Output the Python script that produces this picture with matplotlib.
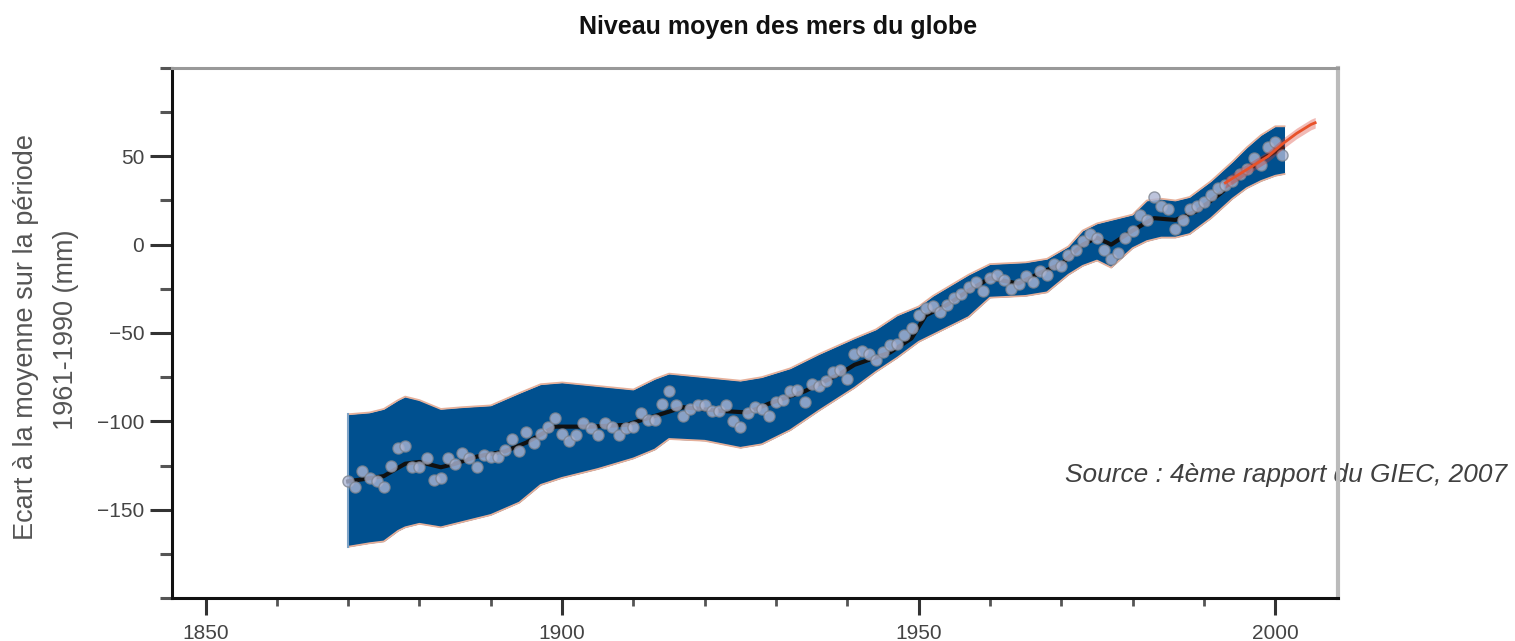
import numpy as np
import matplotlib
matplotlib.use("Agg")
import matplotlib.pyplot as plt
from matplotlib.ticker import MultipleLocator

plt.rcParams['font.family'] = ['Liberation Sans', 'DejaVu Sans']

# annual tide-gauge reconstruction (mm, relative to 1961-1990)
years = np.arange(1870, 2002)
sea_level = [
    -134, -137, -128, -132, -134, -137, -125, -115, -114, -126,
    -126, -121, -133, -132, -121, -124, -118, -121, -126, -119,
    -120, -120, -116, -110, -117, -106, -112, -107, -103, -98,
    -107, -111, -108, -101, -104, -108, -101, -103, -108, -104,
    -103, -95, -99, -99, -90, -83, -91, -97, -93, -91,
    -91, -94, -94, -91, -100, -103, -95, -92, -93, -97,
    -89, -88, -83, -82, -89, -79, -80, -77, -72, -71,
    -76, -62, -60, -62, -65, -61, -57, -56, -51, -47,
    -40, -36, -35, -38, -34, -30, -28, -24, -21, -26,
    -19, -17, -20, -25, -22, -18, -21, -15, -17, -11,
    -12, -6, -3, 2, 6, 4, -3, -8, -5, 4,
    8, 17, 14, 27, 22, 20, 9, 14, 20, 22,
    24, 28, 32, 34, 36, 40, 43, 49, 45, 55,
    58, 51,
]

# smoothed curve
smooth_years = [1870, 1875, 1878, 1880, 1883, 1885, 1888, 1892, 1895, 1899,
                1904, 1909, 1913, 1917, 1922, 1926, 1929, 1934, 1939, 1941,
                1946, 1949, 1951, 1954, 1957, 1960, 1964, 1967, 1970, 1973,
                1975, 1977, 1980, 1983, 1986, 1989, 1992, 1995, 1998, 2001]
smooth_vals = [-134, -131, -124, -123, -126, -124, -120, -117, -112, -103,
               -103, -102, -97, -92, -94, -95, -90, -83, -73, -68,
               -61, -53, -40, -34, -26, -19, -22, -16, -11, 0,
               4, 0, 8, 15, 14, 19, 28, 38, 48, 55]

# 90% confidence band
band_years = [1870, 1873, 1875, 1877, 1878, 1880, 1883, 1886, 1890, 1894,
              1897, 1900, 1905, 1910, 1913, 1915, 1920, 1925, 1928, 1932,
              1936, 1941, 1944, 1947, 1950, 1952, 1957, 1960, 1965, 1968,
              1971, 1973, 1975, 1977, 1980, 1982, 1984, 1986, 1988, 1991,
              1994, 1996, 1998, 2000, 2001.3]
band_upper = [-96, -95, -93, -88, -86, -88, -93, -92, -91, -84,
              -79, -78, -80, -82, -76, -73, -75, -77, -75, -70,
              -62, -53, -48, -40, -35, -29, -17, -11, -10, -8,
              -1, 8, 12, 14, 17, 25, 26, 25, 27, 36,
              47, 55, 62, 67, 67]
band_lower = [-171, -169, -168, -162, -160, -158, -160, -157, -153, -146,
              -136, -132, -127, -121, -116, -110, -111, -115, -113, -105,
              -94, -81, -72, -64, -55, -51, -41, -30, -29, -27,
              -17, -12, -9, -13, -2, 2, 4, 4, 6, 15,
              26, 32, 36, 39, 40]

# satellite altimetry
sat_years = [1993, 1995, 1997, 1999, 2001, 2003, 2005, 2005.6]
sat_vals = [35, 40, 45, 50, 57, 63, 68, 69]

fig = plt.figure(figsize=(15.15, 6.41), dpi=100)
ax = fig.add_axes([172 / 1515, 1 - 598 / 641, (1338 - 172) / 1515, (598 - 68) / 641])
ax.patch.set_visible(False)

ax.fill_between(band_years, band_lower, band_upper, color='#00508f', lw=0, zorder=1)
ax.plot(band_years, band_upper, color='#e6b09a', lw=1.3, zorder=1.5)
ax.plot(band_years, band_lower, color='#e6b09a', lw=1.3, zorder=1.5)
ax.plot([1870, 1870], [band_lower[0], band_upper[0]], color='#7fa3c6', lw=1.5, zorder=1.5)

ax.plot(smooth_years, smooth_vals, color='#111111', lw=3, zorder=2)
ax.plot(years, sea_level, 'o', ms=8, mfc='#adb6d4', mec='#7d8490', mew=1,
        alpha=0.8, zorder=3)

sat = np.array(sat_vals)
ax.fill_between(sat_years, sat - 3, sat + 3, color='#d93a2b', alpha=0.35, lw=0, zorder=4)
ax.plot(sat_years, sat_vals, color='#e8522a', lw=2, zorder=4)

ax.set_xlim(1845.3, 2008.8)
ax.set_ylim(-200, 100)
ax.xaxis.set_major_locator(MultipleLocator(50))
ax.xaxis.set_minor_locator(MultipleLocator(10))
ax.yaxis.set_major_locator(MultipleLocator(50))
ax.yaxis.set_minor_locator(MultipleLocator(25))
ax.set_yticks([-150, -100, -50, 0, 50])

ax.tick_params(axis='both', which='major', direction='out', color='#333333',
               width=2.2, labelsize=15, labelcolor='#444444')
ax.tick_params(axis='y', which='major', length=16, pad=4)
ax.tick_params(axis='y', which='minor', length=9, width=2.2, color='#555555')
ax.tick_params(axis='x', which='major', length=12, pad=7)
ax.tick_params(axis='x', which='minor', length=6, width=2, color='#555555')

for side in ['left', 'bottom']:
    ax.spines[side].set_color('#111111')
    ax.spines[side].set_linewidth(2.2)
ax.spines['top'].set_color('#999999')
ax.spines['top'].set_linewidth(2.2)
ax.spines['right'].set_color('#bbbbbb')
ax.spines['right'].set_linewidth(3)

fig.text(778 / 1515, 1 - 27 / 641, "Niveau moyen des mers du globe",
         ha='center', va='center', fontsize=18, fontweight='bold', color='#111111')

fig.text(26 / 1515, 1 - 337 / 641, "Ecart à la moyenne sur la période",
         rotation=90, ha='center', va='center', fontsize=19.5, color='#555555')
fig.text(66 / 1515, 1 - 330 / 641, "1961-1990 (mm)",
         rotation=90, ha='center', va='center', fontsize=19.5, color='#555555')

fig.text(1065 / 1515, 1 - 475 / 641, "Source : 4ème rapport du GIEC, 2007",
         ha='left', va='center', fontsize=18.9, style='italic', color='#404040',
         zorder=-1)

fig.savefig("out.png", dpi=100)
